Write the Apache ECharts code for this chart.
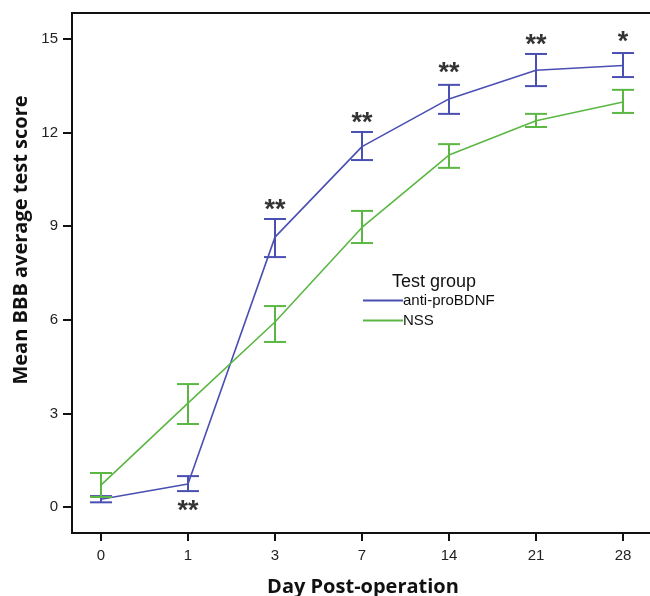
<!DOCTYPE html>
<html>
<head>
<meta charset="utf-8">
<script src="https://cdn.jsdelivr.net/npm/echarts@6/dist/echarts.min.js"></script>
<style>
html,body{margin:0;padding:0;background:#fff;}
#chart{width:650px;height:596px;}
</style>
</head>
<body>
<div id="chart"></div>
<script>
// ---- data ----
var days = ['0', '1', '3', '7', '14', '21', '28'];
var yTicks = [0, 3, 6, 9, 12, 15];
var seriesNames = ['anti-proBDNF', 'NSS'];
var antiMean = [0.25, 0.74, 8.65, 11.55, 13.08, 14.0, 14.15];
var antiLow  = [0.15, 0.51, 8.01, 11.12, 12.60, 13.49, 13.78];
var antiHigh = [0.35, 0.99, 9.23, 12.02, 13.53, 14.52, 14.55];
var nssMean  = [0.70, 3.33, 5.93, 8.96, 11.28, 12.38, 12.98];
var nssLow   = [0.32, 2.66, 5.29, 8.46, 10.87, 12.18, 12.63];
var nssHigh  = [1.09, 3.94, 6.44, 9.49, 11.63, 12.60, 13.37];
var sigMarks = ['', '**', '**', '**', '**', '**', '*'];
var sigLevel = [null, 0.12, 9.75, 12.55, 14.15, 15.05, 15.15];

var blue = '#4a4fb2';
var green = '#5bb744';

function pairs(vals) { return vals.map(function (v, i) { return [i, v]; }); }
function bars(lo, hi) { return lo.map(function (v, i) { return [i, v, hi[i]]; }); }

function errRender(color) {
  return function (params, api) {
    var x = api.value(0);
    var p1 = api.coord([x, api.value(1)]);
    var p2 = api.coord([x, api.value(2)]);
    var hw = 11;
    var st = { stroke: color, lineWidth: 2 };
    return {
      type: 'group',
      children: [
        { type: 'line', shape: { x1: p1[0], y1: p1[1], x2: p2[0], y2: p2[1] }, style: st },
        { type: 'line', shape: { x1: p1[0] - hw, y1: p1[1], x2: p1[0] + hw, y2: p1[1] }, style: st },
        { type: 'line', shape: { x1: p2[0] - hw, y1: p2[1], x2: p2[0] + hw, y2: p2[1] }, style: st }
      ]
    };
  };
}

var sigData = [];
sigLevel.forEach(function (v, i) { if (v !== null) sigData.push([i, v, sigMarks[i]]); });

var chart = echarts.init(document.getElementById('chart'));
chart.setOption({
  animation: false,
  backgroundColor: '#fff',
  title: {
    text: 'Test group', left: 387, top: 268,
    textStyle: { fontFamily: 'Liberation Sans', fontSize: 18, fontWeight: 'normal', color: '#111' }
  },
  legend: {
    orient: 'vertical', left: 358, top: 288,
    itemWidth: 40, itemHeight: 2, itemGap: 5,
    icon: 'rect',
    data: seriesNames,
    textStyle: { fontFamily: 'Liberation Sans', fontSize: 15, color: '#111', padding: [0, 0, 0, -5] }
  },
  graphic: [{
    type: 'text', x: 21, y: 240, rotation: Math.PI / 2,
    style: {
      text: 'Mean BBB average test score', align: 'center', verticalAlign: 'middle',
      fontFamily: 'Open Sans', fontWeight: 'bold', fontSize: 20, fill: '#111'
    }
  }],
  grid: {
    left: 72, top: 13, width: 582, height: 520,
    outerBoundsMode: 'none', containLabel: false,
    show: true, borderColor: '#111', borderWidth: 2, backgroundColor: 'transparent'
  },
  xAxis: {
    type: 'value', min: -0.333, max: 6.356,
    name: 'Day Post-operation', nameLocation: 'middle', nameGap: 44,
    nameTextStyle: { fontFamily: 'Open Sans', fontWeight: 'bold', fontSize: 20, color: '#111' },
    axisLine: { show: true, onZero: false, lineStyle: { color: '#111', width: 2 } },
    axisTick: { show: true, length: 8, customValues: [0, 1, 2, 3, 4, 5, 6], lineStyle: { color: '#111', width: 2 } },
    axisLabel: {
      customValues: [0, 1, 2, 3, 4, 5, 6], margin: 15,
      fontFamily: 'Liberation Sans', fontSize: 15, color: '#222',
      formatter: function (v) { return days[Math.round(v)]; }
    },
    splitLine: { show: false }
  },
  yAxis: {
    type: 'value', min: -0.833, max: 15.833,
    axisLine: { show: true, onZero: false, lineStyle: { color: '#111', width: 2 } },
    axisTick: { show: true, length: 9, customValues: yTicks, lineStyle: { color: '#111', width: 2 } },
    axisLabel: {
      customValues: yTicks, margin: 14,
      fontFamily: 'Liberation Sans', fontSize: 15, color: '#222'
    },
    splitLine: { show: false }
  },
  series: [
    {
      name: seriesNames[0], type: 'line', data: pairs(antiMean),
      symbol: 'none', lineStyle: { color: blue, width: 1.6 }, itemStyle: { color: blue }, z: 3
    },
    {
      name: seriesNames[1], type: 'line', data: pairs(nssMean),
      symbol: 'none', lineStyle: { color: green, width: 1.6 }, itemStyle: { color: green }, z: 3
    },
    {
      type: 'custom', data: bars(antiLow, antiHigh), renderItem: errRender(blue),
      encode: { x: 0, y: [1, 2] }, z: 4
    },
    {
      type: 'custom', data: bars(nssLow, nssHigh), renderItem: errRender(green),
      encode: { x: 0, y: [1, 2] }, z: 5
    },
    {
      type: 'scatter', data: sigData, symbolSize: 1, itemStyle: { color: 'transparent' },
      label: {
        show: true, position: 'inside', offset: [0, 8],
        formatter: function (p) { return p.data[2]; },
        fontFamily: 'Liberation Sans', fontWeight: 'bold', fontSize: 27, color: '#000'
      },
      z: 6
    }
  ]
});
</script>
</body>
</html>
